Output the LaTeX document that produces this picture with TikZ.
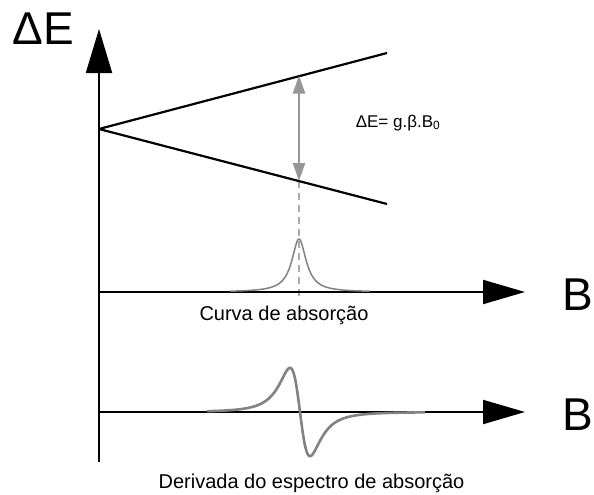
\documentclass[tikz,border=0pt]{standalone}
\usepackage{fontspec}
\setmainfont{Liberation Sans}
\usetikzlibrary{arrows.meta}
\definecolor{curvegray}{RGB}{130,130,130}
\definecolor{arrowgray}{RGB}{150,150,150}
\definecolor{dashgray}{RGB}{170,170,170}
\tikzset{
  axis/.style={line width=2pt, -{Triangle[length=44pt,width=26pt]}},
  haxis/.style={line width=2pt, -{Triangle[length=42pt,width=24pt]}},
  level/.style={line width=2.2pt, black},
  gap/.style={line width=2.5pt, arrowgray, {Triangle[length=18pt,width=12pt]}-{Triangle[length=18pt,width=12pt]}},
  bigtxt/.style={font=\fontsize{46}{50}\selectfont, inner sep=0pt, anchor=base},
  smalltxt/.style={font=\fontsize{20}{24}\selectfont, inner sep=0pt, anchor=base},
}
\begin{document}
\begin{tikzpicture}[x=1pt,y=-1pt]
\useasboundingbox (0,0) rectangle (594,495);
% coordinates
\coordinate (vbot) at (99,462);
\coordinate (vtop) at (99,29);
\coordinate (o) at (99,129);
\coordinate (up) at (387,53);
\coordinate (lo) at (387,204);
\coordinate (h1s) at (99,292);
\coordinate (h1e) at (525,292);
\coordinate (h2s) at (99,412);
\coordinate (h2e) at (525,412);
\coordinate (gt) at (299,75.5);
\coordinate (gb) at (299,181);
\coordinate (db) at (299,298);
% dashed guide
\draw[dashgray, line width=1.3pt, dash pattern=on 7pt off 5pt] (gb) -- (db);
% axes
\draw[axis] (vbot) -- (vtop);
\draw[haxis] (h1s) -- (h1e);
\draw[haxis] (h2s) -- (h2e);
% levels
\draw[level] (o) -- (up);
\draw[level] (o) -- (lo);
% energy gap
\draw[gap] (gt) -- (gb);
% absorption curve
\draw[curvegray, line width=1.5pt] plot[domain=230:370, samples=200, smooth] (\x, {292 - 53/(1+((\x-299)/8.7)^2)});
% derivative curve
\draw[curvegray, line width=2.6pt] plot[domain=207:425, samples=250, smooth] (\x, {412 + 68*(2*((\x-300)/17.3))/(1+((\x-300)/17.3)^2)^2});
% labels
\node[bigtxt] (lde) at (43,45) {ΔE};
\node[bigtxt] (lb1) at (578,310) {B};
\node[bigtxt] (lb2) at (578,430) {B};
\node[font=\fontsize{17}{20}\selectfont, inner sep=0pt, anchor=base] (leq) at (398,127) {ΔE= g.β.B\textsubscript{0}};
\node[smalltxt] (lcurva) at (284,320) {Curva de absorção};
\node[smalltxt] (lderiv) at (311.5,488) {Derivada do espectro de absorção};
\end{tikzpicture}
\end{document}
